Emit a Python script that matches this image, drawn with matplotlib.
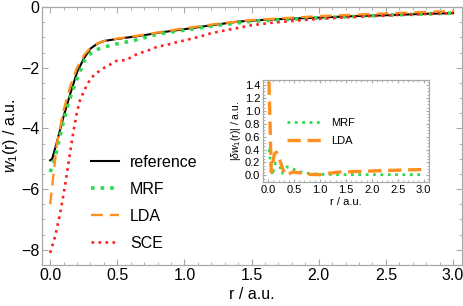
import matplotlib
matplotlib.use('Agg')
import matplotlib.pyplot as plt
from matplotlib.ticker import MultipleLocator

plt.rcParams['font.family'] = ['Liberation Sans', 'DejaVu Sans']
plt.rcParams['mathtext.fontset'] = 'custom'
plt.rcParams['mathtext.rm'] = 'Liberation Sans'
plt.rcParams['mathtext.it'] = 'Liberation Sans:italic'

# main panel: w_1(r) in a.u.
r_ref = [0.0, 0.015, 0.05, 0.1, 0.15, 0.2, 0.25, 0.3, 0.35, 0.4, 0.5, 0.6, 0.7, 0.8,
         1.0, 1.2, 1.4, 1.6, 1.8, 2.0, 2.25, 2.5, 2.75, 3.0]
w_ref = [-5.05, -5.0, -4.45, -3.6, -2.85, -2.15, -1.7, -1.37, -1.21, -1.12, -1.05, -0.99,
         -0.93, -0.85, -0.73, -0.6, -0.48, -0.42, -0.38, -0.35, -0.3, -0.27, -0.23, -0.2]

r_mrf = [0.0, 0.037, 0.062, 0.1, 0.136, 0.198, 0.26, 0.32, 0.395, 0.49, 0.617, 0.8,
         1.0, 1.25, 1.5, 2.0, 2.5, 3.0]
w_mrf = [-5.44, -4.96, -4.47, -3.75, -3.15, -2.38, -1.72, -1.44, -1.33, -1.22, -1.11, -0.89,
         -0.76, -0.6, -0.47, -0.36, -0.27, -0.2]

r_lda = [0.0, 0.02, 0.05, 0.1, 0.15, 0.2, 0.25, 0.3, 0.35, 0.4, 0.5, 0.6, 0.8,
         1.0, 1.25, 1.5, 2.0, 2.5, 3.0]
w_lda = [-6.5, -5.7, -4.5, -3.4, -2.6, -2.0, -1.6, -1.34, -1.2, -1.12, -1.04, -0.98, -0.84,
         -0.7, -0.55, -0.43, -0.3, -0.21, -0.13]

r_sce = [0.0, 0.037, 0.074, 0.11, 0.148, 0.173, 0.198, 0.22, 0.247, 0.27, 0.296, 0.33,
         0.37, 0.41, 0.444, 0.49, 0.53, 0.568, 0.6, 0.617, 0.66, 0.716, 0.76, 0.8, 0.86,
         0.92, 1.0, 1.11, 1.2, 1.36, 1.5, 1.65, 1.83, 2.0, 2.32, 2.6, 3.0]
w_sce = [-8.1, -7.55, -6.8, -5.9, -4.8, -4.1, -3.5, -3.1, -2.82, -2.6, -2.4, -2.22,
         -2.1, -1.98, -1.9, -1.78, -1.76, -1.75, -1.66, -1.61, -1.53, -1.45, -1.38, -1.3, -1.26,
         -1.18, -1.1, -0.98, -0.86, -0.72, -0.6, -0.52, -0.45, -0.39, -0.31, -0.26, -0.2]

# inset: |delta w_1(r)|
r_d_mrf = [0.0, 0.016, 0.05, 0.085, 0.12, 0.146, 0.2, 0.23, 0.27, 0.31, 0.36, 0.45, 0.58,
           0.78, 1.05, 1.5, 2.0, 2.5, 3.0]
d_mrf = [0.39, 0.39, 0.18, 0.0, 0.15, 0.19, 0.16, 0.13, 0.03, 0.1, 0.13, 0.11, 0.06,
         0.03, 0.015, 0.01, 0.01, 0.01, 0.01]

r_d_lda = [0.0, 0.016, 0.06, 0.09, 0.12, 0.16, 0.22, 0.29, 0.35, 0.47, 0.6, 0.74, 0.99,
           1.2, 1.38, 2.0, 2.5, 3.0]
d_lda = [1.45, 1.43, 0.05, 0.2, 0.33, 0.36, 0.25, 0.08, 0.0, 0.05, 0.04, 0.016, 0.01,
         0.035, 0.05, 0.067, 0.08, 0.09]

c_mrf = '#2ed94f'
c_lda = '#ff8f1f'
c_sce = '#ff1f1f'
spine_col = '#a8a8a8'


def style_axes(ax, size, major_len, minor_len):
    for s in ax.spines.values():
        s.set_color(spine_col)
        s.set_linewidth(0.9)
    ax.tick_params(which='both', direction='in', top=True, right=True,
                   color=spine_col, labelsize=size, pad=2)
    ax.tick_params(which='major', length=major_len)
    ax.tick_params(which='minor', length=minor_len)


fig = plt.figure(figsize=(4.63, 3.06), dpi=100)
ax = fig.add_axes([0.091, 0.134, 0.907, 0.843])

ax.plot(r_ref, w_ref, '-', color='black', lw=1.5, label='reference')
ax.plot(r_mrf, w_mrf, ':', color=c_mrf, lw=2.6, label='MRF')
ax.plot(r_lda, w_lda, color=c_lda, lw=1.7, dashes=(5, 3), label='LDA')
ax.plot(r_sce, w_sce, ':', color=c_sce, lw=1.9, label='SCE')

ax.set_xlim(-0.06, 3.067)
ax.set_ylim(-8.5, 0)
ax.xaxis.set_major_locator(MultipleLocator(0.5))
ax.xaxis.set_minor_locator(MultipleLocator(0.1))
ax.yaxis.set_major_locator(MultipleLocator(2))
ax.yaxis.set_minor_locator(MultipleLocator(0.5))
ax.xaxis.set_major_formatter(plt.FuncFormatter(lambda v, p: '{:.1f}'.format(v)))
ax.yaxis.set_major_formatter(plt.FuncFormatter(lambda v, p: '{:d}'.format(int(round(v))).replace('-', '\u2212')))
style_axes(ax, 11.5, 4, 2.5)
ax.set_xlabel('r / a.u.', fontsize=11.5, labelpad=3)
ax.set_ylabel(r'$w_1$(r) / a.u.', fontsize=11.5, labelpad=1)

ax.legend(loc='upper left', bbox_to_anchor=(0.09, 0.47), frameon=False, fontsize=11.5,
          handlelength=1.75, handletextpad=0.7, labelspacing=0.75, borderpad=0.2)

# inset
ins = fig.add_axes([0.568, 0.406, 0.358, 0.333])
ins.plot(r_d_mrf, d_mrf, ':', color=c_mrf, lw=2.0, label='MRF')
ins.plot(r_d_lda, d_lda, color=c_lda, lw=2.4, dashes=(4, 2), label='LDA')
ins.set_xlim(-0.1, 3.1)
ins.set_ylim(-0.1, 1.48)
ins.xaxis.set_major_locator(MultipleLocator(0.5))
ins.xaxis.set_minor_locator(MultipleLocator(0.1))
ins.yaxis.set_major_locator(MultipleLocator(0.2))
ins.yaxis.set_minor_locator(MultipleLocator(0.05))
ins.xaxis.set_major_formatter(plt.FuncFormatter(lambda v, p: '{:.1f}'.format(v)))
ins.yaxis.set_major_formatter(plt.FuncFormatter(lambda v, p: '{:.1f}'.format(v)))
style_axes(ins, 8, 2.5, 1.5)
ins.set_xlabel('r / a.u.', fontsize=8, labelpad=2)
ins.set_ylabel(r'|$\delta w_1$(r)| / a.u.', fontsize=7.5, labelpad=1)
ins.legend(loc='upper left', bbox_to_anchor=(0.1, 0.70), frameon=False, fontsize=8,
           handlelength=3.0, handletextpad=0.9, labelspacing=0.7, borderpad=0.2)

fig.savefig('out.png', dpi=100)
